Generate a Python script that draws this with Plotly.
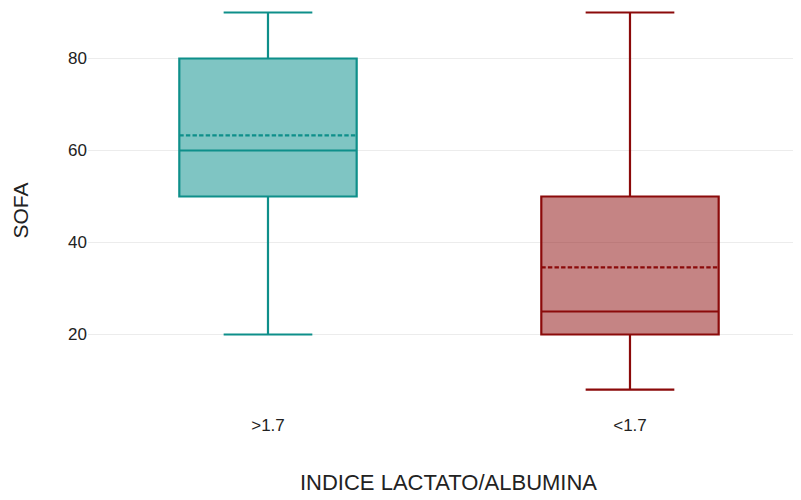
import plotly.graph_objects as go

categories = [">1.7", "<1.7"]
lower = [20, 8]
q1 = [50, 20]
median = [60, 25]
q3 = [80, 50]
upper = [90, 90]
means = [63.3, 34.6]
line_colors = ["#0e8f8a", "#8b0a0a"]
fill_colors = ["rgba(0,139,136,0.5)", "rgba(139,10,10,0.5)"]

fig = go.Figure()
for i, cat in enumerate(categories):
    fig.add_trace(go.Box(
        x=[i], q1=[q1[i]], median=[median[i]], q3=[q3[i]],
        lowerfence=[lower[i]], upperfence=[upper[i]], mean=[means[i]],
        boxmean=True, name=cat, width=0.49, whiskerwidth=0.5,
        line=dict(color=line_colors[i], width=2.2),
        fillcolor=fill_colors[i], boxpoints=False, showlegend=False,
    ))

fig.update_layout(
    width=801, height=500,
    margin=dict(l=80, r=0, t=0, b=95),
    plot_bgcolor="white", paper_bgcolor="white",
    boxmode="overlay",
    font=dict(family="Liberation Sans, Arial", color="#222"),
    xaxis=dict(
        range=[-0.4972, 1.4945], tickmode="array", tickvals=[0, 1], ticktext=categories,
        showgrid=False, zeroline=False, showline=False, automargin=False,
        ticks="", tickfont=dict(size=17),
        title=dict(text="INDICE LACTATO/ALBUMINA", font=dict(size=22), standoff=40),
    ),
    yaxis=dict(
        range=[2.93, 90.98], tickvals=[20, 40, 60, 80],
        showgrid=True, gridcolor="#ececec", gridwidth=1, zeroline=False, showline=False,
        automargin=False, ticks="", ticklabelstandoff=0,
        tickfont=dict(size=17),
        title=dict(text="SOFA", font=dict(size=21), standoff=33),
    ),
)

fig.write_html("out.html")
